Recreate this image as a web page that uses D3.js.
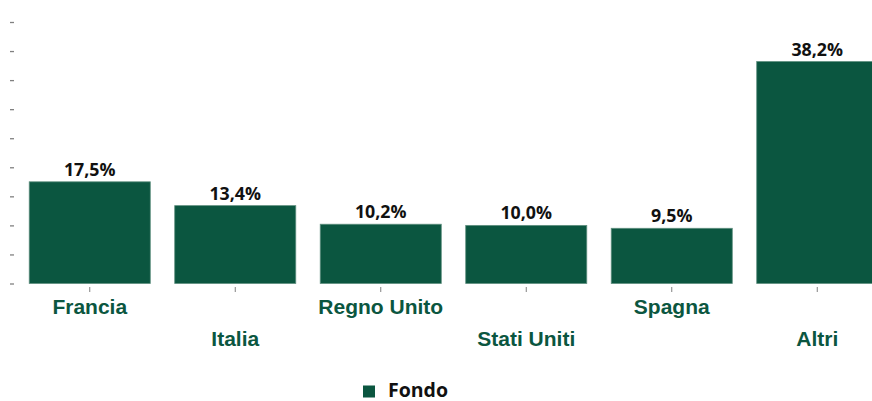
<!DOCTYPE html>
<html>
<head>
<meta charset="utf-8">
<script src="https://cdn.jsdelivr.net/npm/d3@7"></script>
<style>
  html, body { margin: 0; padding: 0; background: #fff; }
  svg { display: block; }
</style>
</head>
<body>
<svg id="chart" width="872" height="401"></svg>
<script>
const categories = ["Francia", "Italia", "Regno Unito", "Stati Uniti", "Spagna", "Altri"];
const values = [17.5, 13.4, 10.2, 10.0, 9.5, 38.2];
const valueLabels = ["17,5%", "13,4%", "10,2%", "10,0%", "9,5%", "38,2%"];
const yTicks = [0, 5, 10, 15, 20, 25, 30, 35, 40, 45];
const seriesName = "Fondo";

const green = "#0b5640";
const svg = d3.select("#chart");

const x = d3.scaleBand().domain(categories).range([17, 890]).paddingInner(0.168).paddingOuter(0.084);
const y = d3.scaleLinear().domain([0, 45]).range([283.5, 22]);

// y axis dashes (no labels)
const yAxis = d3.axisLeft(y).tickValues(yTicks).tickSize(4).tickFormat("");
const gy = svg.append("g").attr("transform", "translate(14,0)").call(yAxis);
gy.select(".domain").remove();
gy.selectAll(".tick line").attr("stroke", "#808080").attr("stroke-width", 1.3);

// bars
svg.append("g").selectAll("rect").data(categories).join("rect")
  .attr("x", d => x(d))
  .attr("y", (d, i) => y(values[i]))
  .attr("width", x.bandwidth())
  .attr("height", (d, i) => y(0) - y(values[i]))
  .attr("fill", green)
  .attr("stroke", "#5f8f7f")
  .attr("stroke-width", 0.8);

// x axis small ticks
const xAxis = d3.axisBottom(x).tickSize(5).tickFormat("");
const gx = svg.append("g").attr("transform", "translate(0,287)").call(xAxis);
gx.select(".domain").remove();
gx.selectAll(".tick line").attr("stroke", "#808080").attr("stroke-width", 1);

// value labels
svg.append("g").selectAll("text").data(categories).join("text")
  .attr("x", d => x(d) + x.bandwidth() / 2)
  .attr("y", (d, i) => y(values[i]) - 6)
  .attr("text-anchor", "middle")
  .attr("font-family", "'Open Sans', sans-serif")
  .attr("font-weight", "bold")
  .attr("font-size", 17.8)
  .attr("fill", "#111")
  .text((d, i) => valueLabels[i]);

// category labels (staggered)
svg.append("g").selectAll("text").data(categories).join("text")
  .attr("x", d => x(d) + x.bandwidth() / 2)
  .attr("y", (d, i) => i % 2 === 0 ? 314 : 346)
  .attr("text-anchor", "middle")
  .attr("font-family", "'Liberation Sans', Arial, sans-serif")
  .attr("font-weight", "bold")
  .attr("font-size", 21)
  .attr("fill", green)
  .text(d => d);

// legend
const lg = svg.append("g");
lg.append("rect").attr("x", 363).attr("y", 385.5).attr("width", 12).attr("height", 12).attr("fill", green);
lg.append("text").attr("x", 388).attr("y", 396.5)
  .attr("font-family", "'Open Sans', sans-serif")
  .attr("font-weight", "bold")
  .attr("font-size", 19.5)
  .attr("fill", "#111")
  .text(seriesName);
</script>
</body>
</html>
